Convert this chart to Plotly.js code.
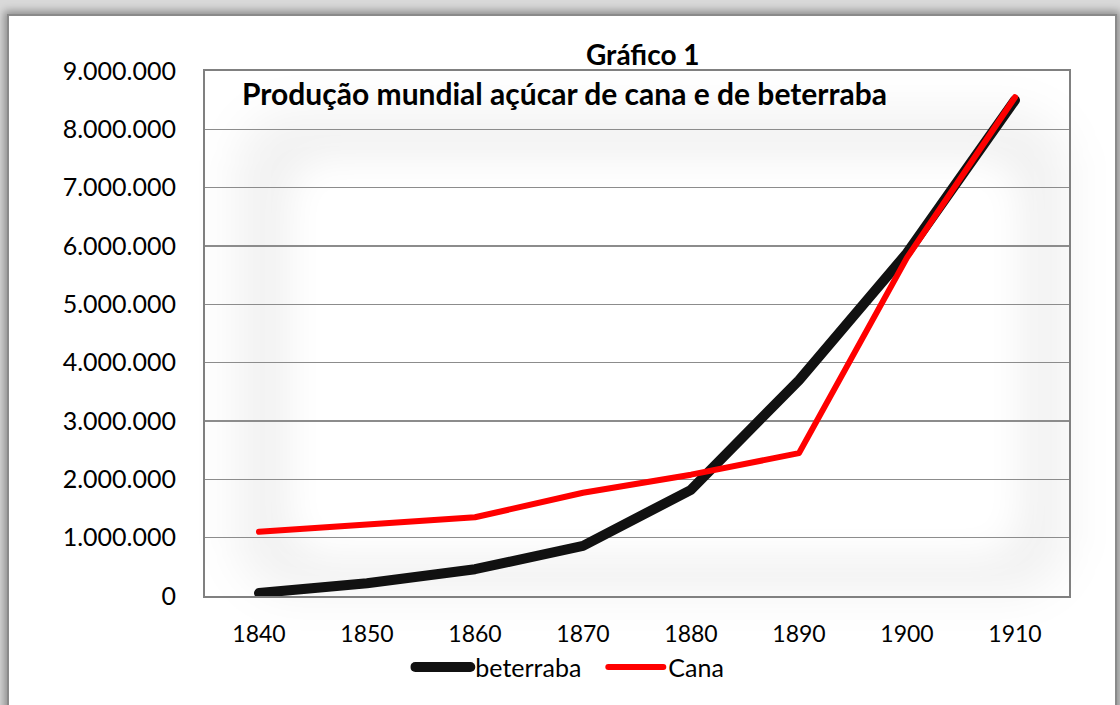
<!DOCTYPE html>
<html>
<head>
<meta charset="utf-8">
<script src="https://cdn.plot.ly/plotly-3.0.1.min.js"></script>
<style>
  html, body { margin: 0; padding: 0; background: #ffffff; }
  #wrap { position: relative; width: 1120px; height: 705px; overflow: hidden; background: #d9d9d9; }
  #frame { position: absolute; left: 7px; top: 14px; width: 1106px; height: 700px; background: #ffffff;
           border: 2px solid #8a8a8a; box-shadow: 0 0 8px 3px rgba(0,0,0,0.35); }
  #glow { position: absolute; left: 235px; top: 110px; width: 835px; height: 485px; border-radius: 60px;
          background: rgba(0,0,0,0.05); filter: blur(22px); }
  #glowin { position: absolute; left: 290px; top: 160px; width: 730px; height: 395px; border-radius: 40px;
          background: #ffffff; filter: blur(18px); }
  #chart { position: absolute; left: 0; top: 0; width: 1120px; height: 705px; }
  #chart .scatterlayer path.js-line, #chart .legend path { stroke-linecap: round; stroke-linejoin: round; }
</style>
</head>
<body>
<div id="wrap">
  <div id="frame"></div>
  <div id="glow"></div>
  <div id="glowin"></div>
  <div id="chart"></div>
</div>
<script>
const years = ['1840', '1850', '1860', '1870', '1880', '1890', '1900', '1910'];
const beterraba = [50000, 220000, 460000, 860000, 1820000, 3700000, 5880000, 8500000];
const cana = [1100000, 1220000, 1350000, 1770000, 2080000, 2450000, 5800000, 8550000];
const yTicks = [0, 1000000, 2000000, 3000000, 4000000, 5000000, 6000000, 7000000, 8000000, 9000000];
const yTickText = ['0', '1.000.000', '2.000.000', '3.000.000', '4.000.000', '5.000.000', '6.000.000', '7.000.000', '8.000.000', '9.000.000'];
const chartTitle = 'Gráfico 1';
const chartSubtitle = 'Produção mundial açúcar de cana e de beterraba';

const FONT = 'Lato, "Open Sans", sans-serif';

const traces = [
  { x: years, y: beterraba, type: 'scatter', mode: 'lines', name: 'beterraba',
    line: { color: '#111111', width: 10 } },
  { x: years, y: cana, type: 'scatter', mode: 'lines', name: 'Cana',
    line: { color: '#ff0000', width: 6 } }
];

const layout = {
  width: 1120, height: 705,
  margin: { l: 205, r: 51, t: 71, b: 109 },
  paper_bgcolor: 'rgba(0,0,0,0)',
  plot_bgcolor: 'rgba(0,0,0,0)',
  font: { family: FONT, size: 22, color: '#000000' },
  showlegend: true,
  legend: { orientation: 'h', x: 0.461, xanchor: 'center', y: -0.092, yanchor: 'top',
            font: { family: FONT, size: 25, color: '#000' }, itemwidth: 55,
            entrywidth: 123, entrywidthmode: 'pixels', traceorder: 'normal' },
  xaxis: { type: 'category', range: [-0.5, 7.5], showgrid: false, zeroline: false,
           showline: true, linecolor: '#808080', linewidth: 2, mirror: true,
           ticks: '', ticklabelstandoff: 16, tickfont: { family: FONT, size: 23 }, fixedrange: true },
  yaxis: { range: [0, 9000000], tickvals: yTicks, ticktext: yTickText, showgrid: true,
           gridcolor: '#8c8c8c', gridwidth: 1.5, zeroline: false,
           showline: true, linecolor: '#808080', linewidth: 2, mirror: true,
           ticks: '', ticklabelstandoff: 22, tickfont: { family: FONT, size: 25 }, fixedrange: true },
  annotations: [
    { text: '<b>' + chartTitle + '</b>', xref: 'paper', yref: 'paper', x: 0.507, y: 1.0,
      xanchor: 'center', yanchor: 'bottom', yshift: -2, showarrow: false,
      font: { family: FONT, size: 28, color: '#000' } },
    { text: '<b>' + chartSubtitle + '</b>', xref: 'paper', yref: 'paper', x: 0.04, y: 0.997,
      xanchor: 'left', yanchor: 'top', showarrow: false,
      font: { family: FONT, size: 30, color: '#000' } }
  ]
};

Plotly.newPlot('chart', traces, layout, { displayModeBar: false, staticPlot: true });
</script>
</body>
</html>
